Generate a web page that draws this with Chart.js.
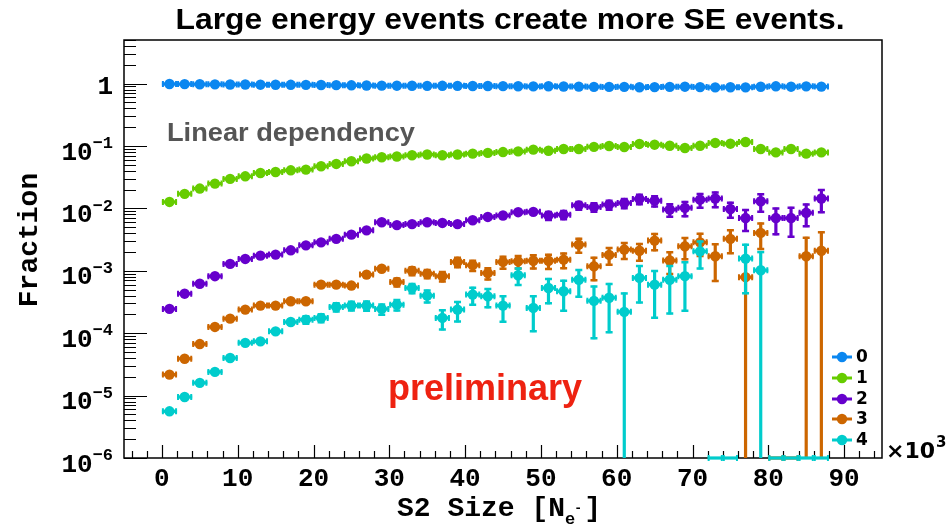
<!DOCTYPE html>
<html>
<head>
<meta charset="utf-8">
<script src="https://cdn.jsdelivr.net/npm/chart.js@4.4.1/dist/chart.umd.min.js"></script>
<style>
  html, body { margin: 0; padding: 0; background: #fff; }
  #wrap { width: 949px; height: 526px; }
</style>
</head>
<body>
<div id="wrap"><canvas id="chart" width="949" height="526"></canvas></div>
<script>
// S2 size bins (x10^3 electrons), 2k wide
const binCenters = [1, 3, 5, 7, 9, 11, 13, 15, 17, 19, 21, 23, 25, 27, 29, 31, 33, 35, 37, 39, 41, 43,
                    45, 47, 49, 51, 53, 55, 57, 59, 61, 63, 65, 67, 69, 71, 73, 75, 77, 79, 81, 83, 85, 87];
const binHalfWidth = 1;

const seriesLabels = ['0', '1', '2', '3', '4'];
const seriesColors = ['#0b87f0', '#66cc00', '#6600cc', '#cc6600', '#00cccc'];

// fraction of events with N single electrons
const frac0 = [0.987, 0.982, 0.978, 0.974, 0.969, 0.966, 0.961, 0.960, 0.957, 0.955, 0.950, 0.945,
               0.939, 0.931, 0.927, 0.926, 0.923, 0.920, 0.922, 0.920, 0.917, 0.914, 0.910, 0.908,
               0.902, 0.906, 0.900, 0.895, 0.888, 0.886, 0.888, 0.874, 0.880, 0.887, 0.893, 0.880,
               0.869, 0.876, 0.871, 0.892, 0.905, 0.893, 0.904, 0.895];
const frac1 = [0.0127, 0.0171, 0.0208, 0.025, 0.0297, 0.0327, 0.037, 0.0384, 0.0408, 0.0419, 0.0473,
               0.0516, 0.0569, 0.063, 0.066, 0.068, 0.071, 0.073, 0.071, 0.073, 0.0755, 0.0775, 0.080,
               0.082, 0.0875, 0.084, 0.0897, 0.0897, 0.097, 0.100, 0.0966, 0.108, 0.105, 0.101, 0.093,
               0.101, 0.112, 0.109, 0.116, 0.0897, 0.079, 0.0897, 0.0755, 0.079];
const frac2 = [2.45e-4, 4.3e-4, 6.2e-4, 8.2e-4, 1.29e-3, 1.55e-3, 1.75e-3, 1.82e-3, 2.13e-3, 2.56e-3,
               2.86e-3, 3.25e-3, 3.8e-3, 4.45e-3, 6.0e-3, 5.4e-3, 5.6e-3, 6.0e-3, 5.85e-3, 5.6e-3,
               6.45e-3, 7.3e-3, 7.7e-3, 8.7e-3, 8.8e-3, 7.7e-3, 7.95e-3, 0.0112, 0.0105, 0.0115,
               0.0122, 0.0142, 0.0133, 9.6e-3, 0.0102, 0.0138, 0.0144, 9.8e-3, 7.0e-3, 0.013,
               7.0e-3, 7.0e-3, 8.5e-3, 0.0144];
const frac3 = [2.17e-5, 3.9e-5, 6.7e-5, 1.26e-4, 1.71e-4, 2.39e-4, 2.77e-4, 2.77e-4, 3.25e-4, 3.25e-4,
               6.0e-4, 6.0e-4, 5.8e-4, 8.7e-4, 1.08e-3, 6.6e-4, 1.0e-3, 9.0e-4, 8.2e-4, 1.39e-3,
               1.23e-3, 9.2e-4, 1.39e-3, 1.42e-3, 1.45e-3, 1.45e-3, 1.51e-3, 2.63e-3, 1.18e-3, 1.8e-3,
               2.19e-3, 2.1e-3, 3.05e-3, 1.46e-3, 2.47e-3, 2.86e-3, 1.71e-3, 3.25e-3, 7.9e-4, 4.05e-3,
               0, 0, 1.71e-3, 2.1e-3];
const frac4 = [5.6e-6, 9.5e-6, 1.6e-5, 2.4e-5, 4.0e-5, 7.0e-5, 7.4e-5, 1.07e-4, 1.51e-4, 1.65e-4,
               1.76e-4, 2.64e-4, 2.77e-4, 2.77e-4, 2.45e-4, 2.87e-4, 5.3e-4, 4.0e-4, 1.76e-4, 2.39e-4,
               4.16e-4, 3.9e-4, 2.77e-4, 8.5e-4, 2.54e-4, 5.3e-4, 4.7e-4, 7.2e-4, 3.3e-4, 3.7e-4,
               2.2e-4, 7.7e-4, 6.0e-4, 7.2e-4, 8.2e-4, 2.05e-3, 0, 0, 1.57e-3, 1.02e-3,
               0, 0, 0, 0];

// statistical errors (absolute)
const err0 = [0.004, 0.004, 0.004, 0.004, 0.004, 0.004, 0.004, 0.004, 0.004, 0.004, 0.004, 0.004,
              0.004, 0.004, 0.004, 0.004, 0.004, 0.004, 0.004, 0.004, 0.005, 0.005, 0.005, 0.005,
              0.005, 0.005, 0.005, 0.005, 0.006, 0.006, 0.006, 0.006, 0.007, 0.007, 0.007, 0.008,
              0.008, 0.009, 0.009, 0.010, 0.010, 0.011, 0.012, 0.013];
const err1 = [2e-4, 3e-4, 3e-4, 4e-4, 4e-4, 5e-4, 5e-4, 5e-4, 6e-4, 6e-4, 7e-4, 7e-4, 8e-4, 9e-4,
              1.0e-3, 1.0e-3, 1.1e-3, 1.1e-3, 1.1e-3, 1.2e-3, 1.3e-3, 1.3e-3, 1.4e-3, 1.5e-3,
              1.6e-3, 1.6e-3, 1.8e-3, 1.9e-3, 2.1e-3, 2.3e-3, 2.3e-3, 2.6e-3, 2.7e-3, 2.7e-3,
              2.6e-3, 3.0e-3, 3.4e-3, 3.5e-3, 3.9e-3, 3.3e-3, 3.1e-3, 3.6e-3, 3.2e-3, 3.5e-3];
const err2 = [1.5e-5, 2.5e-5, 3.5e-5, 5e-5, 8e-5, 1e-4, 1.2e-4, 1.3e-4, 1.6e-4, 2e-4, 2.3e-4, 2.8e-4,
              3.4e-4, 4e-4, 5.5e-4, 5.5e-4, 6e-4, 7e-4, 7e-4, 7.5e-4, 9e-4, 1e-3, 1.1e-3, 1.3e-3,
              1.4e-3, 1.4e-3, 1.5e-3, 2e-3, 2e-3, 2.3e-3, 2.5e-3, 3e-3, 3e-3, 2.5e-3, 3e-3, 3.9e-3,
              4.3e-3, 3e-3, 2.8e-3, 4.5e-3, 3.3e-3, 3.6e-3, 3.5e-3, 6e-3];
const err3 = [2e-6, 3.5e-6, 6e-6, 1.2e-5, 1.7e-5, 2.5e-5, 3e-5, 3.2e-5, 4e-5, 4.2e-5, 8e-5, 8.5e-5,
              8.8e-5, 1.4e-4, 1.8e-4, 1.2e-4, 1.8e-4, 1.7e-4, 1.7e-4, 2.9e-4, 2.7e-4, 2.2e-4, 3.5e-4,
              3.7e-4, 4e-4, 4.2e-4, 4.5e-4, 7.5e-4, 5e-4, 6e-4, 7e-4, 7e-4, 1e-3, 6e-4, 1e-3, 1.2e-3,
              1.05e-3, 1.4e-3, 8e-4, 1.9e-3, 0, 0, 1.8e-3, 2.2e-3];
const err4 = [7e-7, 1.2e-6, 2e-6, 3.2e-6, 5.5e-6, 1e-5, 1.1e-5, 1.7e-5, 2.5e-5, 2.9e-5, 3.2e-5, 5e-5,
              5.4e-5, 5.7e-5, 5.5e-5, 6.5e-5, 1.1e-4, 1e-4, 6.5e-5, 9e-5, 1.4e-4, 1.4e-4, 1.3e-4,
              2.8e-4, 1.5e-4, 2.4e-4, 2.5e-4, 3.5e-4, 2.5e-4, 2.7e-4, 2.3e-4, 4.7e-4, 4.3e-4, 5.2e-4,
              6e-4, 1e-3, 0, 0, 1.15e-3, 1.05e-3, 0, 0, 0, 0];

const xTickLabels = [0, 10, 20, 30, 40, 50, 60, 70, 80, 90];
const yTickExponents = [0, -1, -2, -3, -4, -5, -6];

const X_MIN = -5, X_MAX = 95;
const Y_MIN = 1e-6, Y_MAX = 5;
const MARKER_R = 5.2;

const fractions = [frac0, frac1, frac2, frac3, frac4];
const errors = [err0, err1, err2, err3, err4];

const MONO = '"Liberation Mono", "DejaVu Sans Mono", monospace';
const SANS = '"Liberation Sans", Arial, sans-serif';
const DEJAVU = '"DejaVu Sans", sans-serif';

const datasets = fractions.map((vals, s) => ({
    label: seriesLabels[s],
    data: binCenters.map((x, i) => ({ x: x, y: Math.max(vals[i], Y_MIN), v: vals[i], e: errors[s][i] })),
    backgroundColor: seriesColors[s],
    borderColor: seriesColors[s],
    pointBackgroundColor: seriesColors[s],
    pointBorderWidth: 0,
    pointRadius: ctx => (ctx.raw && ctx.raw.v > 0 ? MARKER_R : 0),
    pointHoverRadius: 0,
    showLine: false,
    order: 4 - s
}));

function fitText(ctx, text, x, y, width) {
    const w = ctx.measureText(text).width;
    ctx.save();
    ctx.translate(x, y);
    ctx.scale(width / w, 1);
    ctx.textAlign = 'center';
    ctx.fillText(text, 0, 0);
    ctx.restore();
}

// error bars drawn right before each set of markers
const errorBars = {
    id: 'errorBars',
    beforeDatasetDraw(chart, args) {
        const ctx = chart.ctx;
        const xs = chart.scales.x, ys = chart.scales.y;
        const ds = chart.data.datasets[args.index];
        const bottom = chart.chartArea.bottom;
        ctx.save();
        ctx.strokeStyle = ds.borderColor;
        ctx.lineCap = 'butt';
        ds.data.forEach(p => {
            const xl = xs.getPixelForValue(p.x - binHalfWidth);
            const xr = xs.getPixelForValue(p.x + binHalfWidth);
            const xc = xs.getPixelForValue(p.x);
            const yc = ys.getPixelForValue(p.y);
            ctx.lineWidth = 3.2;
            ctx.beginPath();
            ctx.moveTo(xl, yc); ctx.lineTo(xr, yc);
            ctx.stroke();
            ctx.lineWidth = 2;
            ctx.beginPath();
            ctx.moveTo(xl + 1, yc - 3); ctx.lineTo(xl + 1, yc + 3);
            ctx.moveTo(xr - 1, yc - 3); ctx.lineTo(xr - 1, yc + 3);
            ctx.stroke();
            if (p.v > 0 && p.e > 0) {
                const yt = ys.getPixelForValue(p.v + p.e);
                const lo = p.v - p.e;
                const yb = lo > Y_MIN ? ys.getPixelForValue(lo) : bottom;
                if (yc - yt > MARKER_R || yb - yc > MARKER_R) {
                    ctx.lineWidth = 3.2;
                    ctx.beginPath();
                    ctx.moveTo(xc, yt); ctx.lineTo(xc, yb);
                    ctx.stroke();
                    ctx.lineWidth = 2.5;
                    ctx.beginPath();
                    ctx.moveTo(xc - 3.5, yt + 1); ctx.lineTo(xc + 3.5, yt + 1);
                    if (yb < bottom) { ctx.moveTo(xc - 3.5, yb - 1); ctx.lineTo(xc + 3.5, yb - 1); }
                    ctx.stroke();
                }
            }
        });
        ctx.restore();
    }
};

// frame and inward ticks
const frameAxes = {
    id: 'frameAxes',
    beforeDatasetsDraw(chart) {
        const ctx = chart.ctx;
        const a = chart.chartArea;
        const xs = chart.scales.x, ys = chart.scales.y;
        ctx.save();
        ctx.strokeStyle = '#000';
        ctx.lineWidth = 1.5;
        ctx.strokeRect(a.left, a.top, a.right - a.left, a.bottom - a.top);

        ctx.lineWidth = 1.2;
        ctx.beginPath();
        for (let v = -4; v <= 94; v += 2) {
            const px = Math.round(xs.getPixelForValue(v)) + 0.5;
            const len = v % 10 === 0 ? 13 : 7;
            ctx.moveTo(px, a.bottom); ctx.lineTo(px, a.bottom - len);
        }
        for (let d = -6; d <= 0; d++) {
            for (let k = 1; k <= 9; k++) {
                const v = k * Math.pow(10, d);
                if (v > Y_MAX) continue;
                const py = Math.round(ys.getPixelForValue(v)) + 0.5;
                const len = k === 1 ? 23 : 12;
                ctx.moveTo(a.left, py); ctx.lineTo(a.left + len, py);
            }
        }
        ctx.stroke();
        ctx.restore();
    },
    afterDraw(chart) {
        const ctx = chart.ctx;
        const xs = chart.scales.x, ys = chart.scales.y;
        ctx.save();
        ctx.fillStyle = '#000';

        // x tick labels
        ctx.font = 'bold 26px ' + MONO;
        ctx.textAlign = 'center';
        ctx.textBaseline = 'middle';
        xTickLabels.forEach(v => ctx.fillText(String(v), xs.getPixelForValue(v), 479));

        // y tick labels
        yTickExponents.forEach(e => {
            const py = ys.getPixelForValue(Math.pow(10, e));
            ctx.textAlign = 'right';
            ctx.textBaseline = 'middle';
            if (e === 0) {
                ctx.font = 'bold 26px ' + MONO;
                ctx.fillText('1', 113, py + 4);
            } else {
                ctx.font = 'bold 17px ' + MONO;
                const sup = '\u2212' + Math.abs(e);
                const sw = ctx.measureText(sup).width;
                ctx.fillText(sup, 113, py - 2);
                ctx.font = 'bold 26px ' + MONO;
                ctx.fillText('10', 113 - sw, py + 7);
            }
        });

        // axis titles
        ctx.font = 'bold 28px ' + MONO;
        ctx.textAlign = 'left';
        ctx.textBaseline = 'alphabetic';
        const main = 'S2 Size [N';
        const mw = ctx.measureText(main).width;
        const x0 = 397;
        ctx.fillText(main, x0, 516);
        ctx.font = 'bold 17px ' + MONO;
        ctx.fillText('e', x0 + mw, 524);
        const ew = ctx.measureText('e').width;
        ctx.font = 'bold 13px ' + MONO;
        ctx.fillText('-', x0 + mw + ew - 1, 512);
        ctx.font = 'bold 28px ' + MONO;
        ctx.fillText(']', x0 + mw + ew + 9, 516);

        ctx.save();
        ctx.translate(37, 240);
        ctx.rotate(-Math.PI / 2);
        ctx.textAlign = 'center';
        ctx.fillText('Fraction', 0, 0);
        ctx.restore();

        // x10^3 multiplier
        ctx.font = 'bold 22px ' + DEJAVU;
        ctx.textAlign = 'left';
        ctx.fillText('\u00d710', 886, 458);
        const tw = ctx.measureText('\u00d710').width;
        ctx.font = 'bold 15px ' + DEJAVU;
        ctx.fillText('3', 886 + tw + 1, 447);

        // title
        ctx.font = 'bold 29px ' + SANS;
        fitText(ctx, 'Large energy events create more SE events.', 510, 29, 669);

        // annotations
        ctx.fillStyle = '#555555';
        ctx.font = 'bold 26px ' + SANS;
        fitText(ctx, 'Linear dependency', 291, 141, 248);
        ctx.fillStyle = '#ee2211';
        ctx.font = 'bold 36px ' + SANS;
        fitText(ctx, 'preliminary', 485, 400, 194);

        // legend
        const legendY = [357, 378, 399, 419, 440];
        chart.data.datasets.forEach((ds, i) => {
            const y = legendY[i];
            ctx.strokeStyle = seriesColors[i];
            ctx.fillStyle = seriesColors[i];
            ctx.lineWidth = 3;
            ctx.beginPath();
            ctx.moveTo(832, y); ctx.lineTo(852, y);
            ctx.stroke();
            ctx.beginPath();
            ctx.arc(842, y, MARKER_R, 0, Math.PI * 2);
            ctx.fill();
            ctx.fillStyle = '#000';
            ctx.font = 'bold 17px ' + DEJAVU;
            ctx.textAlign = 'left';
            ctx.textBaseline = 'middle';
            ctx.fillText(ds.label, 856, y + 1);
        });
        ctx.restore();
    }
};

new Chart(document.getElementById('chart'), {
    type: 'scatter',
    data: { datasets: datasets },
    options: {
        responsive: false,
        animation: false,
        layout: { padding: { left: 124, right: 67, top: 40, bottom: 68 } },
        scales: {
            x: { type: 'linear', min: X_MIN, max: X_MAX, display: false },
            y: { type: 'logarithmic', min: Y_MIN, max: Y_MAX, display: false }
        },
        plugins: {
            legend: { display: false },
            tooltip: { enabled: false }
        }
    },
    plugins: [errorBars, frameAxes]
});
</script>
</body>
</html>
